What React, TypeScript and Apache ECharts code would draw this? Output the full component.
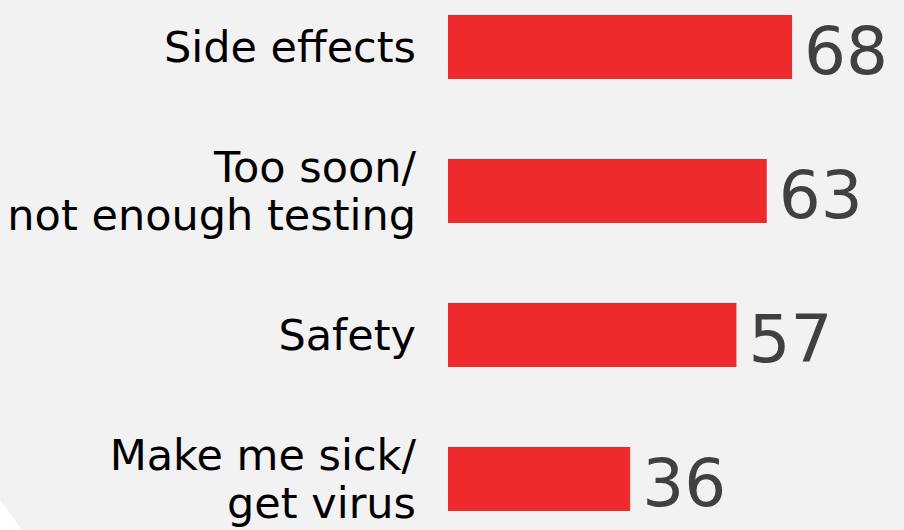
import React, { useEffect, useRef } from "react";
import * as echarts from "echarts";

const categories = ["Side effects", "Too soon/\nnot enough testing", "Safety", "Make me sick/\nget virus"];
const values = [68, 63, 57, 36];

export default function App() {
  const ref = useRef<HTMLDivElement>(null);
  useEffect(() => {
    if (!ref.current) return;
    const chart = echarts.init(ref.current, undefined, { renderer: "svg" });
    chart.setOption({
      animation: false,
      backgroundColor: "#f2f2f2",
      grid: { left: 448, top: 47, bottom: 51, right: 51.2, containLabel: false },
      xAxis: {
        type: "value",
        min: 0,
        max: 80,
        show: false,
      },
      yAxis: {
        type: "category",
        data: categories,
        inverse: true,
        boundaryGap: false,
        axisLine: { show: false },
        axisTick: { show: false },
        splitLine: { show: false },
        axisLabel: {
          margin: 32,
          color: "#000000",
          fontSize: 43,
          lineHeight: 48,
          fontFamily: "DejaVu Sans",
          align: "right",
        },
      },
      graphic: [
        {
          type: "polygon",
          silent: true,
          shape: { points: [[0, 500], [0, 530], [22, 530]] },
          style: { fill: "#ffffff" },
        },
      ],
      series: [
        {
          type: "bar",
          data: values,
          barWidth: 64,
          clip: false,
          itemStyle: { color: "#ee2a2d" },
          label: {
            show: true,
            position: "right",
            distance: 12,
            offset: [0, 4],
            color: "#404040",
            fontSize: 66,
            fontFamily: "DejaVu Sans",
          },
        },
      ],
    });
    return () => chart.dispose();
  }, []);
  return (
    <div
      ref={ref}
      style={{ position: "fixed", left: 0, top: 0, width: 904, height: 530 }}
    />
  );
}
